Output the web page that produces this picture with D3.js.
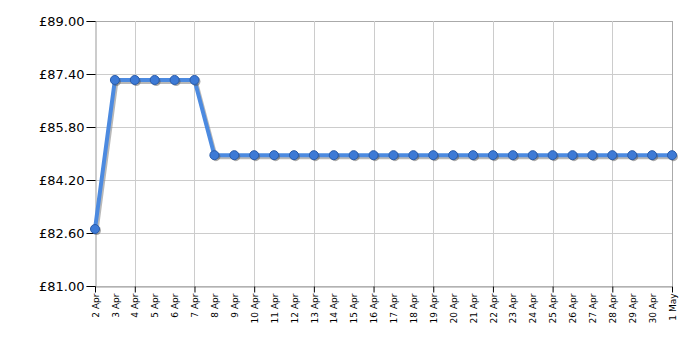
<!DOCTYPE html>
<html>
<head>
<meta charset="utf-8">
<script src="https://cdn.jsdelivr.net/npm/d3@7"></script>
<style>
  body { margin: 0; background: #fff; }
  svg { display: block; font-family: "DejaVu Sans", Verdana, sans-serif; }
</style>
</head>
<body>
<svg id="chart"></svg>
<script>
// day labels, 2 Apr .. 1 May
const days = ["2 Apr", "3 Apr", "4 Apr", "5 Apr", "6 Apr", "7 Apr", "8 Apr", "9 Apr",
  "10 Apr", "11 Apr", "12 Apr", "13 Apr", "14 Apr", "15 Apr", "16 Apr", "17 Apr",
  "18 Apr", "19 Apr", "20 Apr", "21 Apr", "22 Apr", "23 Apr", "24 Apr", "25 Apr",
  "26 Apr", "27 Apr", "28 Apr", "29 Apr", "30 Apr", "1 May"];

const prices = [82.72, 87.22, 87.22, 87.22, 87.22, 87.22,
  84.95, 84.95, 84.95, 84.95, 84.95, 84.95, 84.95, 84.95, 84.95, 84.95,
  84.95, 84.95, 84.95, 84.95, 84.95, 84.95, 84.95, 84.95, 84.95, 84.95,
  84.95, 84.95, 84.95, 84.95];

const yTicks = [81.0, 82.6, 84.2, 85.8, 87.4, 89.0];

// vertical gridlines every 3 days from 4 Apr
const gridDays = ["4 Apr", "7 Apr", "10 Apr", "13 Apr", "16 Apr", "19 Apr",
  "22 Apr", "25 Apr", "28 Apr", "1 May"];

const width = 700, height = 350;
const margin = { top: 21, right: 28, bottom: 64, left: 95 };

const svg = d3.select("#chart").attr("width", width).attr("height", height);

const x = d3.scalePoint()
  .domain(days)
  .range([margin.left, width - margin.right]);

const y = d3.scaleLinear()
  .domain([81, 89])
  .range([height - margin.bottom, margin.top]);

// horizontal gridlines
svg.append("g")
  .selectAll("line")
  .data(yTicks)
  .enter()
  .append("line")
  .attr("x1", margin.left)
  .attr("x2", width - margin.right)
  .attr("y1", d => Math.round(y(d)) + 0.5)
  .attr("y2", d => Math.round(y(d)) + 0.5)
  .attr("stroke", d => d === 89 ? "#aaa" : "#ccc");

// vertical gridlines
svg.append("g")
  .selectAll("line")
  .data(gridDays)
  .enter()
  .append("line")
  .attr("x1", d => Math.round(x(d)) + 0.5)
  .attr("x2", d => Math.round(x(d)) + 0.5)
  .attr("y1", margin.top)
  .attr("y2", height - margin.bottom)
  .attr("stroke", d => d === "1 May" ? "#aaa" : "#ccc");

// y axis
const yAxis = svg.append("g")
  .attr("transform", `translate(${margin.left + 0.5},0)`)
  .call(d3.axisLeft(y).tickValues(yTicks).tickSize(9).tickPadding(2)
    .tickFormat(d => "£" + d.toFixed(2)));
yAxis.select(".domain").attr("stroke", "#999");
yAxis.selectAll(".tick line").attr("stroke", "#000");
yAxis.selectAll("text").attr("font-size", 13).attr("fill", "#000")
  .attr("font-family", "DejaVu Sans, Verdana, sans-serif");

// x axis
const xAxis = svg.append("g")
  .attr("transform", `translate(0,${Math.round(y(81)) + 0.5})`)
  .call(d3.axisBottom(x).tickSize(0).tickPadding(0));
xAxis.select(".domain").attr("stroke", "#999");
xAxis.selectAll(".tick text")
  .attr("font-size", 9)
  .attr("fill", "#000")
  .attr("font-family", "DejaVu Sans, Verdana, sans-serif")
  .attr("text-anchor", "end")
  .attr("transform", "rotate(-90)")
  .attr("x", -7)
  .attr("y", 0)
  .attr("dy", "0.35em");

// tick marks at gridline days
xAxis.selectAll(".tick")
  .filter(d => d === "2 Apr" || gridDays.includes(d))
  .append("line")
  .attr("y2", 6)
  .attr("stroke", "#000");

const line = d3.line()
  .x((d, i) => x(days[i]))
  .y(d => y(d));

// shadow
svg.append("path")
  .datum(prices)
  .attr("fill", "none")
  .attr("stroke", "#888")
  .attr("stroke-opacity", 0.6)
  .attr("stroke-width", 4)
  .attr("transform", "translate(1.5,2)")
  .attr("d", line);

svg.append("path")
  .datum(prices)
  .attr("fill", "none")
  .attr("stroke", "#4c8ae0")
  .attr("stroke-width", 4)
  .attr("stroke-linejoin", "round")
  .attr("d", line);

// point shadows
svg.append("g")
  .selectAll("circle")
  .data(prices)
  .enter()
  .append("circle")
  .attr("cx", (d, i) => x(days[i]) + 1.5)
  .attr("cy", d => y(d) + 1.5)
  .attr("r", 4.5)
  .attr("fill", "#555")
  .attr("fill-opacity", 0.5);

svg.append("g")
  .selectAll("circle")
  .data(prices)
  .enter()
  .append("circle")
  .attr("cx", (d, i) => x(days[i]))
  .attr("cy", d => y(d))
  .attr("r", 4.5)
  .attr("fill", "#3d7ad6")
  .attr("stroke", "#2a5caa")
  .attr("stroke-width", 1);
</script>
</body>
</html>
